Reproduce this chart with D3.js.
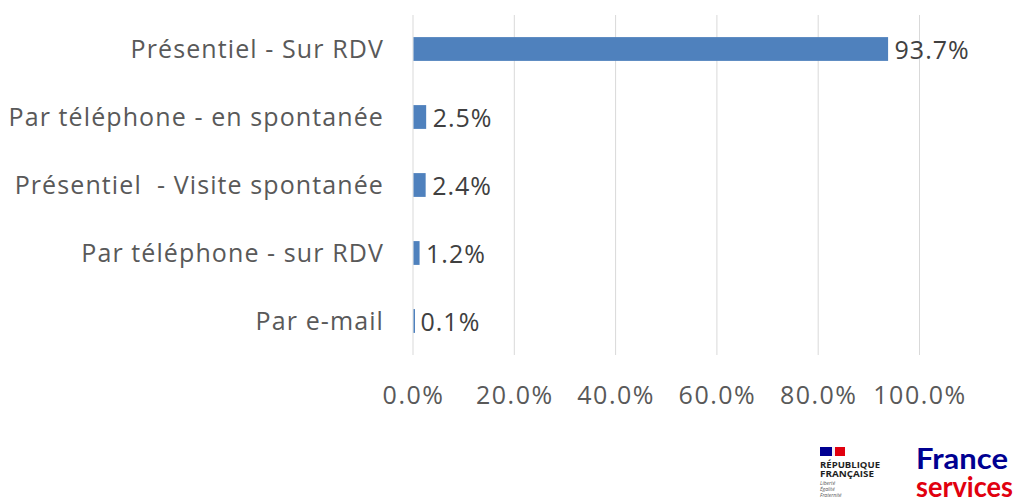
<!DOCTYPE html>
<html lang="fr">
<head>
<meta charset="utf-8">
<title>Modes de contact</title>
<script src="https://cdn.jsdelivr.net/npm/d3@7"></script>
<style>
  body { margin: 0; background: #fff; }
  svg text { font-family: "Open Sans", sans-serif; }
</style>
</head>
<body>
<script>
// data
var categories = ["Présentiel - Sur RDV", "Par téléphone - en spontanée", "Présentiel  - Visite spontanée", "Par téléphone - sur RDV", "Par e-mail"];
var values = [93.7, 2.5, 2.4, 1.2, 0.1];
var ticks = [0, 20, 40, 60, 80, 100];

var w = 1032, h = 498;
var plotLeft = 413, plotRight = 919.5, plotTop = 15, plotBottom = 355;

var svg = d3.select("body").append("svg")
  .attr("width", w).attr("height", h);

var x = d3.scaleLinear().domain([0, 100]).range([plotLeft, plotRight]);
var y = d3.scaleBand().domain(categories).range([plotTop, plotBottom]).paddingInner(0.65).paddingOuter(0.325);

// gridlines
svg.append("g").selectAll("line")
  .data(ticks).enter().append("line")
  .attr("x1", function(d) { return x(d); })
  .attr("x2", function(d) { return x(d); })
  .attr("y1", plotTop).attr("y2", plotBottom)
  .attr("stroke", "#d9d9d9").attr("stroke-width", 1);

// bars
svg.append("g").selectAll("rect")
  .data(values).enter().append("rect")
  .attr("x", x(0) + 0.5)
  .attr("y", function(d, i) { return y(categories[i]); })
  .attr("width", function(d) { return Math.max(x(d) - x(0), 1.5); })
  .attr("height", y.bandwidth())
  .attr("fill", "#4f81bd");

// value labels
svg.append("g").selectAll("text")
  .data(values).enter().append("text")
  .attr("x", function(d) { return x(d) + 7; })
  .attr("y", function(d, i) { return y(categories[i]) + y.bandwidth() / 2 + 1; })
  .attr("dy", "0.35em")
  .attr("font-size", 25)
  .attr("letter-spacing", 1)
  .attr("fill", "#404040")
  .text(function(d) { return d.toFixed(1) + "%"; });

// category labels
svg.append("g").selectAll("text")
  .data(categories).enter().append("text")
  .attr("x", 384)
  .attr("y", function(d) { return y(d) + y.bandwidth() / 2; })
  .attr("dy", "0.35em")
  .attr("text-anchor", "end")
  .attr("font-size", 25)
  .attr("letter-spacing", 1.1)
  .attr("fill", "#595959")
  .style("white-space", "pre")
  .text(function(d) { return d; });

// x axis
var xAxis = d3.axisBottom(x).tickValues(ticks)
  .tickFormat(function(d) { return d.toFixed(1) + "%"; })
  .tickSize(0).tickPadding(31);
var gx = svg.append("g")
  .attr("transform", "translate(0," + plotBottom + ")")
  .call(xAxis);
gx.select(".domain").remove();
gx.selectAll("text")
  .attr("font-size", 25)
  .attr("letter-spacing", 1.5)
  .attr("fill", "#595959")
  .style("font-family", "'Open Sans', sans-serif");

// logos
var logo = svg.append("g").attr("transform", "translate(820,447)");
logo.append("rect").attr("x", 0).attr("y", 0).attr("width", 12).attr("height", 9).attr("fill", "#000091");
logo.append("rect").attr("x", 12).attr("y", 0).attr("width", 3).attr("height", 9).attr("fill", "#f0f0f8");
logo.append("rect").attr("x", 15).attr("y", 0).attr("width", 10).attr("height", 9).attr("fill", "#e1000f");
logo.append("text").attr("x", 0).attr("y", 21).attr("font-size", 8.5).attr("font-weight", "bold").attr("fill", "#1e1e1e")
  .attr("textLength", 60).attr("lengthAdjust", "spacingAndGlyphs").text("RÉPUBLIQUE");
logo.append("text").attr("x", 0).attr("y", 30).attr("font-size", 8.5).attr("font-weight", "bold").attr("fill", "#1e1e1e")
  .attr("textLength", 54).attr("lengthAdjust", "spacingAndGlyphs").text("FRANÇAISE");
logo.append("text").attr("x", 0).attr("y", 38).attr("font-size", 5).attr("font-style", "italic").attr("fill", "#555").text("Liberté");
logo.append("text").attr("x", 0).attr("y", 44).attr("font-size", 5).attr("font-style", "italic").attr("fill", "#555").text("Égalité");
logo.append("text").attr("x", 0).attr("y", 50).attr("font-size", 5).attr("font-style", "italic").attr("fill", "#555").text("Fraternité");

svg.append("text").attr("x", 916).attr("y", 469)
  .attr("font-size", 29).attr("font-weight", "bold").attr("fill", "#000091")
  .style("font-family", "Lato, sans-serif")
  .attr("textLength", 92).attr("lengthAdjust", "spacingAndGlyphs")
  .text("France");
svg.append("text").attr("x", 916).attr("y", 497)
  .attr("font-size", 29).attr("font-weight", "bold").attr("fill", "#e1000f")
  .style("font-family", "Lato, sans-serif")
  .attr("textLength", 97).attr("lengthAdjust", "spacingAndGlyphs")
  .text("services");
</script>
</body>
</html>
